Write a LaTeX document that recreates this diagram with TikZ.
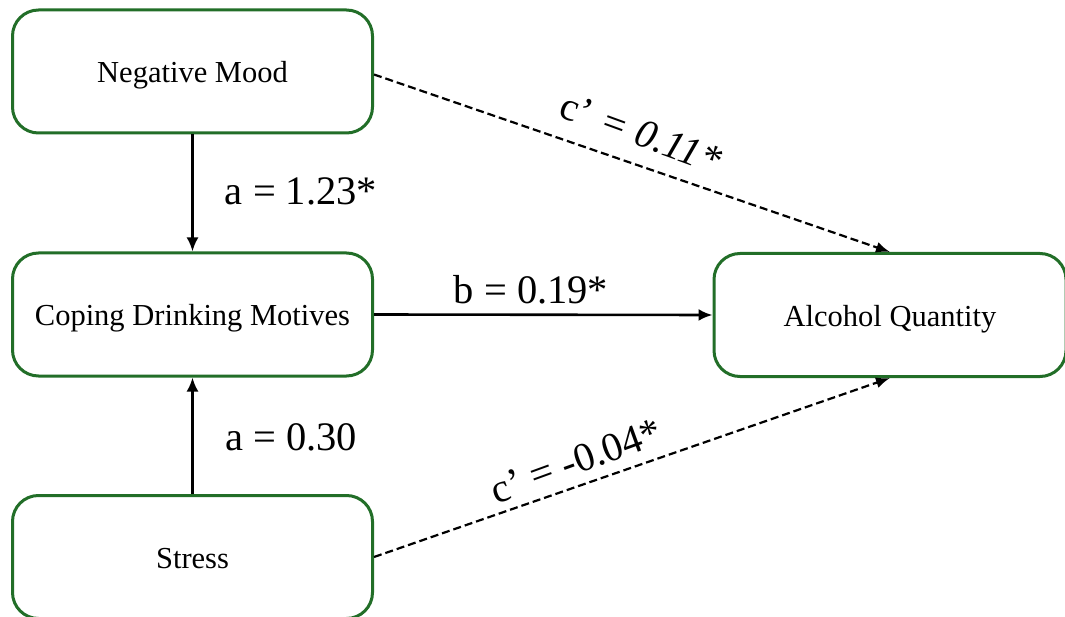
\documentclass[tikz,border=0pt]{standalone}
\usepackage{fontspec}
\setmainfont{Liberation Serif}
\usetikzlibrary{arrows.meta}
\definecolor{boxgreen}{RGB}{34,110,40}
\tikzset{
  varbox/.style={draw=boxgreen, line width=3pt, rounded corners=26pt, fill=white,
    minimum height=123pt, inner sep=0pt, text height=23pt, text depth=0pt,
    font=\fontsize{30.5}{35}\selectfont},
  solidarrow/.style={line width=2.6pt, -{Latex[length=14pt,width=12pt]}},
  dasharrow/.style={line width=2.2pt, dash pattern=on 8pt off 4pt, -{Latex[length=14pt,width=11pt]}},
  coef/.style={font=\fontsize{40.5}{46}\selectfont, inner sep=0pt}
}
\begin{document}
\begin{tikzpicture}[x=1pt,y=-1pt]
\useasboundingbox (0,0) rectangle (1065,617);
\node[varbox, minimum width=360pt] (nm) at (192.5,71.5) {Negative Mood};
\node[varbox, minimum width=360pt] (cdm) at (192.5,314.5) {Coping Drinking Motives};
\node[varbox, minimum width=360pt] (st) at (192.5,557) {Stress};
\node[varbox, minimum width=352pt] (aq) at (890,315) {Alcohol Quantity};

\draw[solidarrow] (nm.south) -- (cdm.north);
\draw[solidarrow] (st.north) -- (cdm.south);
\draw[solidarrow] (cdm.east) -- (aq.west);
\draw[dasharrow] ([yshift=-3pt]nm.east) -- (aq.north);
\draw[dasharrow] (st.east) -- (aq.south);

\node[coef] (la) at (301,191) {a = 1.23*};
\node[coef] (lb) at (291,437) {a = 0.30};
\node[coef] (lc) at (531,290) {b = 0.19*};
\node[coef, rotate=-20] (ld) at (641,133) {c’ \textit{= 0.11*}};
\node[coef, rotate=20] (le) at (576,461) {c’ = -0.04*};
\end{tikzpicture}
\end{document}
